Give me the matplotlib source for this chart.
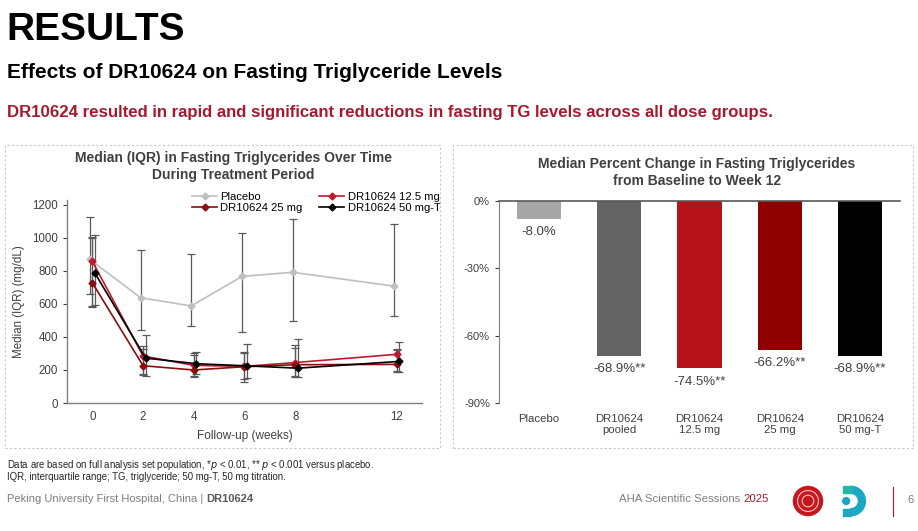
import matplotlib
matplotlib.use("Agg")
import matplotlib.pyplot as plt
from matplotlib.patches import Rectangle, Circle, Wedge
from matplotlib.lines import Line2D

plt.rcParams['font.family'] = ['Liberation Sans', 'DejaVu Sans']

# ---- data: TG over time (median, Q1, Q3) ----
weeks = [0, 2, 4, 6, 8, 12]
placebo_med = [870, 638, 588, 767, 792, 708]
placebo_q1 = [658, 443, 464, 431, 496, 529]
placebo_q3 = [1130, 930, 904, 1031, 1117, 1082]
mg12_med = [858, 285, 228, 222, 245, 295]
mg12_q1 = [590, 170, 165, 145, 165, 195]
mg12_q3 = [1005, 344, 293, 309, 354, 327]
mg25_med = [728, 226, 200, 220, 232, 234]
mg25_q1 = [583, 175, 155, 130, 157, 185]
mg25_q3 = [1000, 330, 300, 300, 335, 320]
mg50_med = [787, 272, 238, 225, 211, 252]
mg50_q1 = [595, 165, 173, 150, 160, 185]
mg50_q3 = [1018, 410, 307, 358, 388, 370]

# ---- data: percent change at week 12 ----
groups = ['Placebo', 'DR10624\npooled', 'DR10624\n12.5 mg', 'DR10624\n25 mg', 'DR10624\n50 mg-T']
pct_change = [-8.0, -68.9, -74.5, -66.2, -68.9]
pct_labels = ['-8.0%', '-68.9%**', '-74.5%**', '-66.2%**', '-68.9%**']

W, H = 918, 531
fig = plt.figure(figsize=(W / 100, H / 100), dpi=100)
fig.patch.set_facecolor('white')


def px(x, y):
    return x / W, 1 - y / H


# ---- slide header ----
fig.text(*px(6, 30), 'RESULTS', fontsize=28, fontweight='bold', va='center', ha='left', color='black')
fig.text(*px(7, 73), 'Effects of DR10624 on Fasting Triglyceride Levels', fontsize=15,
         fontweight='bold', va='center', ha='left', color='black')
fig.text(*px(7, 112), 'DR10624 resulted in rapid and significant reductions in fasting TG levels across all dose groups.',
         fontsize=12.1, fontweight='bold', va='center', ha='left', color='#A6192E')

# panel boxes
for x0, x1 in [(5, 440), (453, 913)]:
    fig.patches.append(Rectangle(px(x0, 448), (x1 - x0) / W, (448 - 145) / H, transform=fig.transFigure,
                                 fill=False, ec='#C8C8C8', lw=0.8, ls=(0, (2, 2))))

# ---- left chart ----
ax = fig.add_axes([67 / W, 1 - 403 / H, (422 - 67) / W, (403 - 200) / H])
series = [
    ('Placebo', placebo_med, placebo_q1, placebo_q3, '#BFBFBF', -0.1),
    ('DR10624 12.5 mg', mg12_med, mg12_q1, mg12_q3, '#C0182F', 0.0),
    ('DR10624 25 mg', mg25_med, mg25_q1, mg25_q3, '#8B0D0D', 0.0),
    ('DR10624 50 mg-T', mg50_med, mg50_q1, mg50_q3, '#000000', 0.1),
]
handles = {}
for name, med, q1, q3, col, off in series:
    xs = [w + off for w in weeks]
    lo = [m - a for m, a in zip(med, q1)]
    hi = [b - m for m, b in zip(med, q3)]
    ax.errorbar(xs, med, yerr=[lo, hi], fmt='none', ecolor='#595959', elinewidth=0.9, capsize=3, capthick=0.9, zorder=2)
    h, = ax.plot(xs, med, color=col, lw=1.2, marker='D', ms=3.5, mfc=col, mec=col, zorder=3, label=name)
    handles[name] = h

ax.set_xlim(-1, 13)
ax.set_ylim(0, 1230)
ax.set_xticks(weeks)
ax.set_yticks(range(0, 1201, 200))
ax.tick_params(axis='both', labelsize=8.3, colors='#404040', length=3, width=0.8)
ax.tick_params(axis='x', length=0, pad=6)
for s in ['top', 'right']:
    ax.spines[s].set_visible(False)
for s in ['left', 'bottom']:
    ax.spines[s].set_color('#808080')
    ax.spines[s].set_linewidth(1.0)
ax.set_xlabel('Follow-up (weeks)', fontsize=8.5, color='#404040', labelpad=5)
ax.set_ylabel('Median (IQR) (mg/dL)', fontsize=8.3, color='#404040', labelpad=5)
ax.legend([handles['Placebo'], handles['DR10624 25 mg'], handles['DR10624 12.5 mg'], handles['DR10624 50 mg-T']],
          ['Placebo', 'DR10624 25 mg', 'DR10624 12.5 mg', 'DR10624 50 mg-T'],
          ncol=2, loc='lower left', bbox_to_anchor=(0.34, 0.915), frameon=False, fontsize=8.1,
          handlelength=2.2, handletextpad=0.3, columnspacing=1.5, labelspacing=0.1, borderaxespad=0)
fig.text(*px(233, 166.5), 'Median (IQR) in Fasting Triglycerides Over Time\nDuring Treatment Period',
         fontsize=10, fontweight='bold', ha='center', va='center', color='#404040', linespacing=1.35)

# ---- right chart ----
bx = fig.add_axes([499 / W, 1 - 403 / H, (900 - 499) / W, (403 - 201) / H])
bar_colors = ['#A6A6A6', '#636363', '#B5121B', '#8E0000', '#000000']
xpos = list(range(len(groups)))
bx.bar(xpos, pct_change, width=0.55, color=bar_colors, zorder=2)
for x, v, t in zip(xpos, pct_change, pct_labels):
    bx.text(x, v - 6, t, ha='center', va='center', fontsize=9.5, color='#404040')
bx.set_ylim(-90, 0)
bx.set_xlim(-0.5, len(groups) - 0.5)
bx.set_yticks([0, -30, -60, -90])
bx.set_yticklabels(['0%', '-30%', '-60%', '-90%'])
bx.set_xticks(xpos)
bx.set_xticklabels(groups, linespacing=1.1)
bx.tick_params(axis='y', labelsize=8, colors='#404040', length=3, width=0.8)
bx.tick_params(axis='x', labelsize=8.2, colors='#404040', length=0, pad=8)
bx.spines['right'].set_visible(False)
bx.spines['bottom'].set_visible(False)
bx.spines['left'].set_color('#808080')
bx.spines['top'].set_color('#595959')
bx.spines['top'].set_linewidth(1.2)
fig.text(*px(697, 172.5), 'Median Percent Change in Fasting Triglycerides\nfrom Baseline to Week 12',
         fontsize=10, fontweight='bold', ha='center', va='center', color='#404040', linespacing=1.35)

# ---- footer ----
fig.text(*px(7, 465), 'Data are based on full analysis set population, *$p$ < 0.01, ** $p$ < 0.001 versus placebo.',
         fontsize=6.9, ha='left', va='center', color='#262626')
fig.text(*px(7, 477), 'IQR, interquartile range; TG, triglyceride; 50 mg-T, 50 mg titration.',
         fontsize=6.9, ha='left', va='center', color='#262626')
t1 = fig.text(*px(7, 499), 'Peking University First Hospital, China | ', fontsize=8, ha='left', va='center', color='#7F7F7F')
fig.canvas.draw()
bb = t1.get_window_extent()
fig.text(bb.x1 / W, 1 - 499 / H, 'DR10624', fontsize=8, fontweight='bold', ha='left', va='center', color='#595959')
t2 = fig.text(*px(619, 499), 'AHA Scientific Sessions ', fontsize=8.2, ha='left', va='center', color='#7F7F7F')
fig.canvas.draw()
bb = t2.get_window_extent()
fig.text(bb.x1 / W, 1 - 499 / H, '2025', fontsize=8.2, ha='left', va='center', color='#A6192E')

# logos (simple shapes)
lg = fig.add_axes([791 / W, 1 - 517 / H, 34 / W, 32 / H])
lg.set_xlim(-1.1, 1.1)
lg.set_ylim(-1.1, 1.1)
lg.set_aspect('equal')
lg.axis('off')
lg.add_patch(Circle((0, 0), 1.0, color='#C8161D'))
lg.add_patch(Circle((0, 0), 0.72, fill=False, ec='#F2C4C4', lw=0.8))
lg.add_patch(Circle((0, 0), 0.4, fill=False, ec='#F2C4C4', lw=0.8))
lg2 = fig.add_axes([833 / W, 1 - 518 / H, 34 / W, 34 / H])
lg2.set_xlim(-1.1, 1.1)
lg2.set_ylim(-1.1, 1.1)
lg2.set_aspect('equal')
lg2.axis('off')
lg2.add_patch(Wedge((0.05, 0), 0.95, -90, 90, width=0.45, color='#1EA7C4'))
lg2.add_patch(Rectangle((-0.45, -0.95), 0.5, 0.45, color='#1EA7C4'))
lg2.add_patch(Rectangle((-0.45, 0.5), 0.5, 0.45, color='#22B8A8'))
lg2.add_patch(Circle((-0.25, 0.0), 0.22, color='#1FA0C8'))
fig.add_artist(Line2D([893 / W, 893 / W], [1 - 487 / H, 1 - 516 / H], transform=fig.transFigure, color='#A6192E', lw=0.8))
fig.text(*px(910, 500), '6', fontsize=8, ha='center', va='center', color='#7F7F7F')

fig.savefig('out.png', dpi=100, facecolor='white')
